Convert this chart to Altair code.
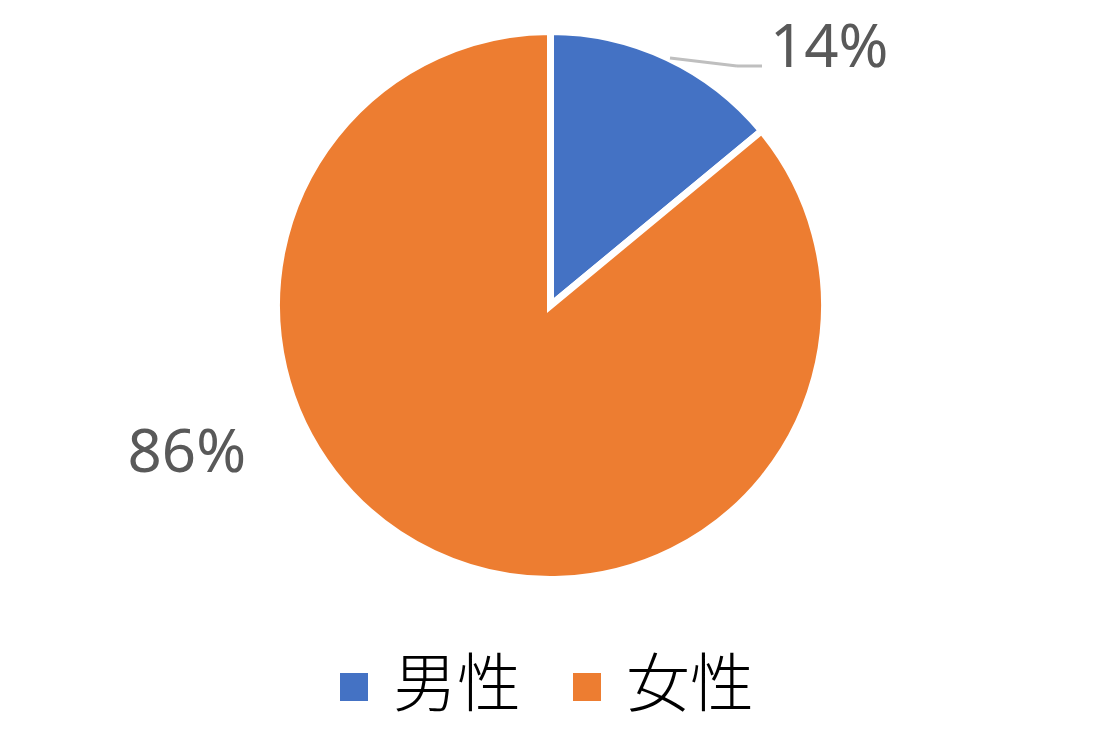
import altair as alt
import pandas as pd

categories = ["男性", "女性"]
values = [14, 86]
labels = ["14%", "86%"]
colors = ["#4472C4", "#ED7D31"]

df = pd.DataFrame({
    "category": categories,
    "value": values,
    "label": labels,
    "order": list(range(len(categories))),
})

CX, CY = 542.5, 297.5

base = alt.Chart(df).encode(
    theta=alt.Theta("value:Q", stack=True),
    order=alt.Order("order:Q"),
)

pie = base.mark_arc(outerRadius=274, stroke="white", strokeWidth=7).encode(
    color=alt.Color(
        "category:N",
        scale=alt.Scale(domain=categories, range=colors),
        sort=categories,
        legend=alt.Legend(
            title=None,
            orient="none",
            legendX=314,
            legendY=647,
            direction="horizontal",
            symbolType="square",
            symbolSize=784,
            symbolStrokeWidth=0,
            symbolOpacity=1,
            labelFont="Noto Sans CJK JP",
            labelFontSize=64,
            labelFontWeight=300,
            labelColor="#000000",
            labelOffset=7,
            columnPadding=34,
            padding=0,
        ),
    ),
    x=alt.value(CX),
    y=alt.value(CY),
)

def label_layer(cat, dx, dy):
    return base.mark_text(
        radius=300,
        fontSize=60,
        font="Noto Sans",
        color="#595959",
        align="center",
        baseline="alphabetic",
        dx=dx,
        dy=dy,
    ).encode(
        text=alt.condition(alt.datum.category == cat, "label:N", alt.value("")),
        x=alt.value(CX),
        y=alt.value(CY),
    )

lbl_m = label_layer("男性", 151, 33)
lbl_f = label_layer("女性", -236, -105)

one = pd.DataFrame({"a": [0]})
lead1 = alt.Chart(one).mark_rule(color="#BFBFBF", strokeWidth=3).encode(
    x=alt.value(662), y=alt.value(50), x2=alt.value(729), y2=alt.value(58)
)
lead2 = alt.Chart(one).mark_rule(color="#BFBFBF", strokeWidth=3).encode(
    x=alt.value(729), y=alt.value(58), x2=alt.value(754), y2=alt.value(58)
)

chart = alt.layer(pie, lead1, lead2, lbl_m, lbl_f).properties(
    width=1094,
    height=734,
    autosize=alt.AutoSizeParams(type="none"),
    padding=0,
    background="white",
).configure_view(stroke=None)

chart.save("out.html", embed_options={"renderer": "svg", "actions": False})
